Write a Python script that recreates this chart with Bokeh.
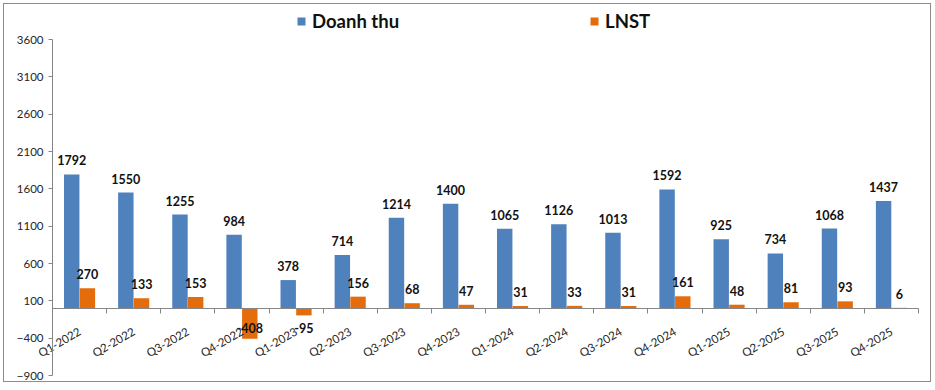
from math import pi
from bokeh.plotting import figure
from bokeh.models import (Range1d, ColumnDataSource, Legend, LegendItem,
                          FixedTicker, LinearAxis)
from bokeh.core.properties import value
from bokeh.embed import file_html
from bokeh.resources import INLINE

categories = ["Q1-2022", "Q2-2022", "Q3-2022", "Q4-2022",
              "Q1-2023", "Q2-2023", "Q3-2023", "Q4-2023",
              "Q1-2024", "Q2-2024", "Q3-2024", "Q4-2024",
              "Q1-2025", "Q2-2025", "Q3-2025", "Q4-2025"]
doanh_thu = [1792, 1550, 1255, 984, 378, 714, 1214, 1400,
             1065, 1126, 1013, 1592, 925, 734, 1068, 1437]
lnst = [270, 133, 153, -408, -95, 156, 68, 47,
        31, 33, 31, 161, 48, 81, 93, 6]
y_ticks = [-900, -400, 100, 600, 1100, 1600, 2100, 2600, 3100, 3600]

BLUE = "#4F81BD"
ORANGE = "#E46C0A"
AXIS = "#868686"
FONT = "Lato"
DODGE = 0.145
W = 0.285

# layout (pixels)
FIG_W, FIG_H = 928, 379
PAD_L, PAD_R, PAD_T, PAD_B = 48, 14, 35, 8   # plot-area insets inside the figure

n = len(categories)
centers = [i + 0.5 for i in range(n)]

ux = n / (FIG_W - PAD_L - PAD_R)                       # data units per pixel (x)
uy = (y_ticks[-1] - y_ticks[0]) / (FIG_H - PAD_T - PAD_B)  # data units per pixel (y)
x_range = Range1d(-PAD_L * ux, n + PAD_R * ux)
y_range = Range1d(y_ticks[0] - PAD_B * uy, y_ticks[-1] + PAD_T * uy)


def label_cols(vals):
    ys = [v if v >= 0 else 0 for v in vals]
    offs = [-14 if v >= 0 else 20 for v in vals]
    return ys, offs


rev_y, rev_off = label_cols(doanh_thu)
pro_y, pro_off = label_cols(lnst)

src = ColumnDataSource(dict(
    xr=[c - DODGE for c in centers], xp=[c + DODGE for c in centers],
    rev=doanh_thu, pro=lnst,
    rev_txt=[str(v) for v in doanh_thu], pro_txt=[str(v) for v in lnst],
    rev_y=rev_y, rev_off=rev_off, pro_y=pro_y, pro_off=pro_off,
))

p = figure(width=FIG_W, height=FIG_H, output_backend="svg", toolbar_location=None,
           x_range=x_range, y_range=y_range,
           x_axis_location=None, y_axis_location=None,
           min_border_left=0, min_border_right=0, min_border_top=0, min_border_bottom=0)
p.styles = {"border": "1.5px solid #8c8c8c", "margin": "3px 0 0 3px"}
p.grid.visible = False
p.outline_line_color = None
p.background_fill_color = "white"
p.border_fill_color = "white"

# y axis (at x = 0)
ya = LinearAxis(fixed_location=0, ticker=FixedTicker(ticks=y_ticks),
                bounds=(y_ticks[0], y_ticks[-1]),
                axis_line_color=AXIS, major_tick_line_color=AXIS,
                major_tick_in=0, major_tick_out=4, minor_tick_line_color=None,
                major_label_text_font=FONT, major_label_text_font_size="11.5px",
                major_label_text_color="#262626", major_label_standoff=5)
p.add_layout(ya, "left")

# boundary ticks on x axis (at y = 0)
tick_axis = LinearAxis(fixed_location=0, bounds=(0, n),
                       ticker=FixedTicker(ticks=list(range(n + 1))),
                       axis_line_color=AXIS, major_tick_line_color=AXIS,
                       major_tick_in=0, major_tick_out=5,
                       minor_tick_line_color=None,
                       major_label_text_alpha=0, major_label_text_font_size="1px")
p.add_layout(tick_axis, "below")

# category labels
cat_axis = LinearAxis(fixed_location=0, axis_line_color=None,
                      ticker=FixedTicker(ticks=centers),
                      major_label_overrides={c: lab for c, lab in zip(centers, categories)},
                      major_tick_line_color=None, minor_tick_line_color=None,
                      major_label_orientation=pi / 6,
                      major_label_standoff=16,
                      major_label_text_font=FONT,
                      major_label_text_font_size="11.5px",
                      major_label_text_color="#262626")
p.add_layout(cat_axis, "below")

r1 = p.vbar(x="xr", top="rev", bottom=0, width=W,
            source=src, fill_color=BLUE, line_color=None)
r2 = p.vbar(x="xp", top="pro", bottom=0, width=W,
            source=src, fill_color=ORANGE, line_color=None)

p.text(x="xr", y="rev_y", text="rev_txt", y_offset="rev_off",
       source=src, text_align="center", text_baseline="middle",
       text_font=value(FONT), text_font_style="bold", text_font_size="12.5px",
       text_color="#111111")
p.text(x="xp", y="pro_y", text="pro_txt", y_offset="pro_off",
       source=src, text_align="center", text_baseline="middle",
       text_font=value(FONT), text_font_style="bold", text_font_size="12.5px",
       text_color="#111111")

legend = Legend(items=[LegendItem(label="Doanh thu", renderers=[r1]),
                       LegendItem(label="LNST", renderers=[r2])],
                orientation="horizontal", location=(292, 351),
                padding=0, margin=0, spacing=190,
                glyph_width=10, glyph_height=10, label_standoff=6,
                label_text_font=FONT, label_text_font_style="bold",
                label_text_font_size="18.5px", label_text_color="#111111",
                border_line_color=None, background_fill_alpha=0)
p.add_layout(legend, "center")

open("out.html", "w").write(file_html(p, INLINE))
